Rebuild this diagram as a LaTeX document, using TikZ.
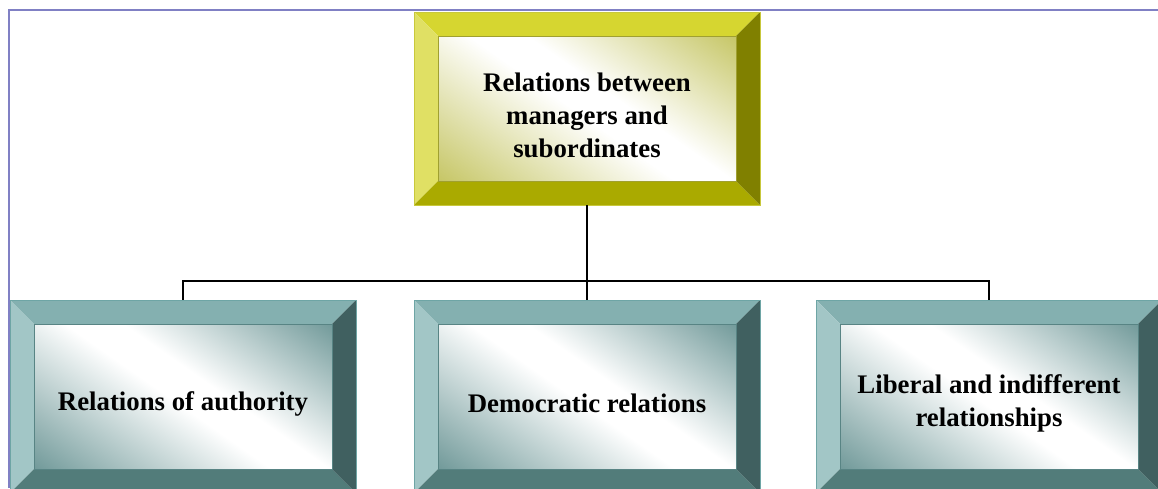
\documentclass[tikz,border=0pt]{standalone}
\usepackage{fontspec}
\setmainfont{Liberation Serif}
\usepackage{xcolor}
\definecolor{goldT}{RGB}{214,214,48}
\definecolor{goldL}{RGB}{224,224,100}
\definecolor{goldB}{RGB}{170,170,0}
\definecolor{goldR}{RGB}{128,128,0}
\definecolor{goldD}{RGB}{196,196,96}
\definecolor{goldO}{RGB}{200,200,60}
\definecolor{tealT}{RGB}{132,176,176}
\definecolor{tealL}{RGB}{162,198,198}
\definecolor{tealB}{RGB}{82,124,122}
\definecolor{tealR}{RGB}{64,96,96}
\definecolor{tealD}{RGB}{108,150,150}
\definecolor{tealO}{RGB}{110,165,165}
\definecolor{myframe}{RGB}{128,128,196}
\usepackage{tikz}
\usetikzlibrary{calc}
\pgfdeclareverticalshading{goldglow}{100bp}{color(0bp)=(goldD); color(14bp)=(goldD); color(48bp)=(white); color(56bp)=(white); color(86bp)=(goldD); color(100bp)=(goldD)}
\pgfdeclareverticalshading{tealglow}{100bp}{color(0bp)=(tealD); color(14bp)=(tealD); color(48bp)=(white); color(56bp)=(white); color(86bp)=(tealD); color(100bp)=(tealD)}
\newcommand{\BevelBox}[4]{
\coordinate (#2-a) at ($(#3)+(-173,-96.5)$);
\coordinate (#2-b) at ($(#3)+( 173,-96.5)$);
\coordinate (#2-c) at ($(#3)+( 173, 96.5)$);
\coordinate (#2-d) at ($(#3)+(-173, 96.5)$);
\coordinate (#2-e) at ($(#2-a)+( 24, 24)$);
\coordinate (#2-f) at ($(#2-b)+(-24, 24)$);
\coordinate (#2-g) at ($(#2-c)+(-24,-24)$);
\coordinate (#2-h) at ($(#2-d)+( 24,-24)$);
\path[fill=#1T] (#2-a) -- (#2-b) -- (#2-f) -- (#2-e) --cycle;
\path[fill=#1L] (#2-a) -- (#2-e) -- (#2-h) -- (#2-d) --cycle;
\path[fill=#1B] (#2-d) -- (#2-h) -- (#2-g) -- (#2-c) --cycle;
\path[fill=#1R] (#2-b) -- (#2-c) -- (#2-g) -- (#2-f) --cycle;
\shade[shading=#1glow,shading angle=-35] (#2-e) rectangle (#2-g);
\draw[#1O,thin] (#2-a) rectangle (#2-c);
\draw[#1O!80!black,very thin] (#2-e) -- (#2-f) -- (#2-g) -- (#2-h) --cycle;
\node[boxshape] (#2) at (#3) {};
\node[boxtext] (#2-t) at ($(#3)+(0,7)$) {#4};}

\begin{document}
\begin{tikzpicture}[x=1pt,y=-1pt]
	\tikzstyle{boxshape}=[minimum width=346pt,minimum height=193pt,inner sep=0pt];
	\tikzstyle{boxtext}=[inner sep=0pt,align=center,font=\bfseries\fontsize{26.8}{33}\selectfont];
	\tikzstyle{link}=[draw=black,line width=1.6pt];
	%%
	\clip (0,0) rectangle (1158,488);
	\draw[myframe,line width=2pt] (9,488) -- (9,10) -- (1158,10);
	%%
	\BevelBox{gold}{top}{587,108.5}{Relations between\\managers and\\subordinates}
	\BevelBox{teal}{auth}{183,396.5}{Relations of authority}
	\BevelBox{teal}{demo}{587,396.5}{Democratic relations}
	\BevelBox{teal}{lib}{989,396.5}{Liberal and indifferent\\relationships}
	%%
	\coordinate (bus) at (587,281);
	\draw[link] (top.south) -- (bus);
	\draw[link] (auth.north) |- (bus) -| (lib.north);
	\draw[link] (bus) -- (demo.north);
\end{tikzpicture}
\end{document}
